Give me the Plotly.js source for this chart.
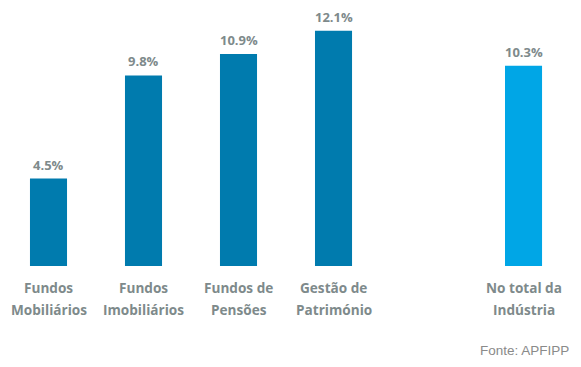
<!DOCTYPE html>
<html>
<head>
<meta charset="utf-8">
<script src="https://cdn.plot.ly/plotly-3.0.1.min.js"></script>
<style>html,body{margin:0;padding:0;background:#fff}#chart{width:581px;height:367px}</style>
</head>
<body>
<div id="chart"></div>
<script>
const positions = [0, 1, 2, 3, 5];
const values = [4.5, 9.8, 10.9, 12.1, 10.3];
const valueLabels = ["4.5%", "9.8%", "10.9%", "12.1%", "10.3%"];
const labelLine1 = ["Fundos", "Fundos", "Fundos de", "Gestão de", "No total da"];
const labelLine2 = ["Mobiliários", "Imobiliários", "Pensões", "Património", "Indústria"];
const barColors = ["#007BAE", "#007BAE", "#007BAE", "#007BAE", "#00A6E6"];
const source = "Fonte: APFIPP";

const labelFont = {family: "Open Sans, sans-serif", size: 13.6, color: "#7E8A8B", weight: 700};
const valueFont = {family: "Open Sans, sans-serif", size: 13, color: "#7E8A8B", weight: 700};

const annotations = [];
positions.forEach((p, i) => {
  annotations.push({x: p, xref: 'x', y: 0, yref: 'y', yanchor: 'middle', yshift: -21,
    text: labelLine1[i], showarrow: false, font: labelFont});
  annotations.push({x: p, xref: 'x', y: 0, yref: 'y', yanchor: 'middle', yshift: -43,
    text: labelLine2[i], showarrow: false, font: labelFont});
  annotations.push({x: p, xref: 'x', y: values[i], yref: 'y', yanchor: 'middle', yshift: 14,
    text: valueLabels[i], showarrow: false, font: valueFont});
});
annotations.push({x: 1, xref: 'paper', xanchor: 'right', xshift: -10, y: 0, yref: 'paper',
  yanchor: 'middle', yshift: -84, text: source, showarrow: false,
  font: {family: "Liberation Sans, Arial, sans-serif", size: 13.5, color: "#8A8A8A"}});

Plotly.newPlot('chart', [{
  type: 'bar',
  x: positions,
  y: values,
  width: 0.39,
  marker: {color: barColors},
  hoverinfo: 'none'
}], {
  width: 581, height: 367,
  margin: {l: 0, r: 0, t: 0, b: 101, pad: 0},
  paper_bgcolor: '#fff', plot_bgcolor: '#fff',
  showlegend: false,
  xaxis: {range: [-0.5105, 5.605], showgrid: false, zeroline: false, showticklabels: false, showline: false, fixedrange: true},
  yaxis: {range: [0, 13.68], showgrid: false, zeroline: false, showticklabels: false, showline: false, fixedrange: true},
  annotations: annotations
}, {displayModeBar: false, staticPlot: true});
</script>
</body>
</html>
